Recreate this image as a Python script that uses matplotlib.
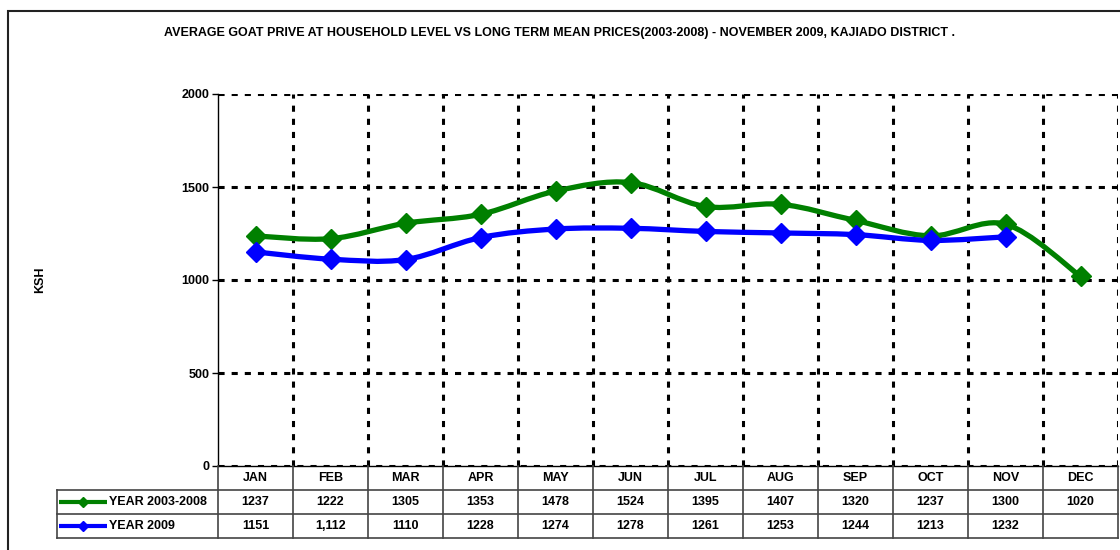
import matplotlib
matplotlib.use("Agg")
import matplotlib.pyplot as plt
from matplotlib.path import Path
from matplotlib.patches import PathPatch, Rectangle
from matplotlib.lines import Line2D
from matplotlib.ticker import MultipleLocator, FixedLocator

plt.rcParams['font.family'] = ['Liberation Sans', 'DejaVu Sans']
plt.rcParams['font.weight'] = 'bold'

title = ("AVERAGE GOAT PRIVE AT HOUSEHOLD LEVEL VS LONG TERM MEAN PRICES(2003-2008)"
         " - NOVEMBER 2009, KAJIADO DISTRICT .")
months = ["JAN", "FEB", "MAR", "APR", "MAY", "JUN", "JUL", "AUG", "SEP", "OCT", "NOV", "DEC"]
long_term = [1237, 1222, 1305, 1353, 1478, 1524, 1395, 1407, 1320, 1237, 1300, 1020]
year_2009 = [1151, 1112, 1110, 1228, 1274, 1278, 1261, 1253, 1244, 1213, 1232]
long_term_text = ["1237", "1222", "1305", "1353", "1478", "1524", "1395", "1407", "1320", "1237", "1300", "1020"]
year_2009_text = ["1151", "1,112", "1110", "1228", "1274", "1278", "1261", "1253", "1244", "1213", "1232", ""]
series = [("YEAR 2003-2008", long_term, long_term_text, "#008000"),
          ("YEAR 2009", year_2009, year_2009_text, "#0000FF")]

W, H = 1120, 550
fig = plt.figure(figsize=(W / 100, H / 100), dpi=100)

def fx(px):
    return px / W

def fy(py):
    return 1 - py / H

ax = fig.add_axes([fx(218), fy(466), fx(1118) - fx(218), fy(94) - fy(466)])
ax.set_xlim(-0.5, len(months) - 0.5)
ax.set_ylim(0, 2000)

# dotted grid, Excel style
dots = (0, (2.0, 2.3))
ax.yaxis.set_major_locator(MultipleLocator(500))
ax.xaxis.set_major_locator(FixedLocator([]))
ax.xaxis.set_minor_locator(FixedLocator([i + 0.5 for i in range(len(months))]))
ax.grid(axis='y', which='major', color='black', linestyle=dots, linewidth=2.2)
ax.grid(axis='x', which='minor', color='black', linestyle=dots, linewidth=2.2)
ax.tick_params(axis='x', which='both', length=0, labelbottom=False)
ax.tick_params(axis='y', length=4, width=1, direction='out', labelsize=9, pad=2)
for s in ['top', 'right']:
    ax.spines[s].set_visible(False)
ax.spines['left'].set_linewidth(1)
ax.spines['bottom'].set_linewidth(1)
ax.spines['left'].set_zorder(5)
fig.text(fx(40), fy(280), "KSH", rotation=90, ha='center', va='center', fontsize=9, fontweight='bold')


def smooth_path(ys):
    # cubic bezier through the points (excel "smoothed line")
    xs = list(range(len(ys)))
    pts = list(zip(xs, ys))
    verts = [pts[0]]
    codes = [Path.MOVETO]
    for i in range(len(pts) - 1):
        p0 = pts[i - 1] if i > 0 else pts[i]
        p1 = pts[i]
        p2 = pts[i + 1]
        p3 = pts[i + 2] if i + 2 < len(pts) else pts[i + 1]
        c1 = (p1[0] + (p2[0] - p0[0]) / 6, p1[1] + (p2[1] - p0[1]) / 6)
        c2 = (p2[0] - (p3[0] - p1[0]) / 6, p2[1] - (p3[1] - p1[1]) / 6)
        verts += [c1, c2, p2]
        codes += [Path.CURVE4] * 3
    return Path(verts, codes)


for name, vals, _, col in series:
    ax.add_patch(PathPatch(smooth_path(vals), facecolor='none', edgecolor=col,
                           linewidth=3.8, capstyle='round', joinstyle='round', zorder=3))
    ax.plot(range(len(vals)), vals, linestyle='none', marker='D', markersize=10,
            color=col, markeredgecolor=col, zorder=4)

fig.text(fx(559), fy(33), title, ha='center', va='center', fontsize=9, fontweight='bold')

# data table below the axes
row_h = 24
top = 466
grey = '#444444'
tr = ax.get_xaxis_transform()
tab_ax_y = lambda py: (466 - py) / (466 - 94)
for i, m in enumerate(months):
    ax.text(i, tab_ax_y(top + row_h / 2), m, transform=tr, ha='center', va='center',
            fontsize=9, fontweight='bold', clip_on=False)
    for r, (_, _, txt, _) in enumerate(series):
        ax.text(i, tab_ax_y(top + row_h * (r + 1.5)), txt[i], transform=tr, ha='center',
                va='center', fontsize=9, fontweight='bold', clip_on=False)

# table rules
for k in range(1, 4):
    y = fy(top + row_h * k)
    fig.add_artist(Line2D([fx(57), fx(1118)], [y, y], color=grey, linewidth=1.2))
for k in range(len(months) + 1):
    x = fx(218 + 75 * k)
    fig.add_artist(Line2D([x, x], [fy(top), fy(top + 3 * row_h)], color=grey, linewidth=1.2))
fig.add_artist(Line2D([fx(57), fx(57)], [fy(top + row_h), fy(top + 3 * row_h)], color=grey, linewidth=1.2))

# legend keys in table
for r, (name, _, _, col) in enumerate(series):
    y = fy(top + row_h * (r + 1.5))
    fig.add_artist(Line2D([fx(59), fx(107)], [y, y], color=col, linewidth=3,
                          solid_capstyle='butt'))
    fig.add_artist(Line2D([fx(83)], [y], color=col, marker='D', markersize=5, linestyle='none'))
    fig.text(fx(109), y, name, ha='left', va='center', fontsize=9, fontweight='bold')

# outer border
fig.add_artist(Rectangle((fx(8), fy(600)), 2, fy(11) - fy(600), fill=False,
                         edgecolor='#222222', linewidth=1.5, transform=fig.transFigure))

fig.savefig("out.png", dpi=100)
